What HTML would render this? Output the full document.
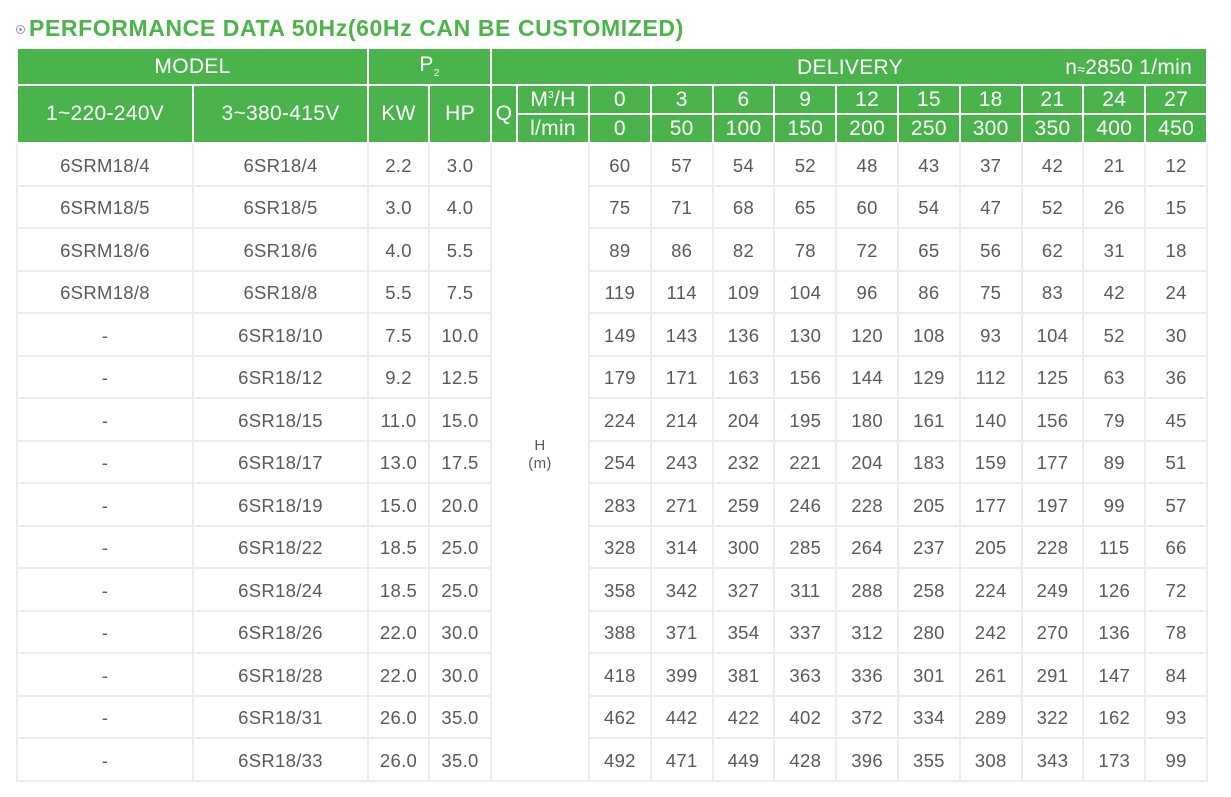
<!DOCTYPE html>
<html><head><meta charset="utf-8"><style>
body{margin:0;width:1231px;height:797px;background:#fff;font-family:"Liberation Sans",sans-serif;overflow:hidden;position:relative}
.title{position:absolute;left:16px;top:15px;color:#4cb54a;font-size:23px;font-weight:bold;white-space:nowrap;letter-spacing:0.6px}
.title .dot{display:inline-block;width:9px;height:9px;border:1px solid #999;border-radius:50%;position:relative;top:-2px;margin-right:4px;box-sizing:border-box}
.title .dot:after{content:"";position:absolute;left:2px;top:2px;width:3px;height:3px;border-radius:50%;background:#999}
table{position:absolute;left:16px;top:47px;border-collapse:collapse;table-layout:fixed;width:1190px}
td{padding:0;text-align:center;overflow:hidden;white-space:nowrap}
.h td{background:#4bb34b;color:#fff;border:2px solid #fff;font-size:21px;letter-spacing:0.3px}
.b td{border:2px solid #ececec;color:#5a5a5a;font-size:18.5px;height:37.5px;line-height:20px;letter-spacing:0.3px;padding-top:3px}
sup,sub{font-size:10px}
</style></head><body>
<div class="title"><span class="dot"></span>PERFORMANCE DATA 50Hz(60Hz CAN BE CUSTOMIZED)</div>
<table>
<colgroup><col style="width:176px"><col style="width:175px"><col style="width:61px"><col style="width:62px"><col style="width:26px"><col style="width:72px"><col span="10" style="width:61.8px"></colgroup>
<tr class="h" style="height:37px"><td colspan="2">MODEL</td><td colspan="2">P<sub>2</sub></td><td colspan="12" style="position:relative"><span style="position:absolute;left:305px;top:7px">DELIVERY</span><span style="position:absolute;right:14px;top:7px">n<span style="font-size:14px">≈</span>2850 1/min</span></td></tr>
<tr class="h" style="height:29px"><td rowspan="2">1~220-240V</td><td rowspan="2">3~380-415V</td><td rowspan="2">KW</td><td rowspan="2">HP</td><td rowspan="2">Q</td><td>M<sup>3</sup>/H</td><td>0</td><td>3</td><td>6</td><td>9</td><td>12</td><td>15</td><td>18</td><td>21</td><td>24</td><td>27</td></tr>
<tr class="h" style="height:29px"><td>l/min</td><td>0</td><td>50</td><td>100</td><td>150</td><td>200</td><td>250</td><td>300</td><td>350</td><td>400</td><td>450</td></tr>
<tr class="b"><td>6SRM18/4</td><td>6SR18/4</td><td>2.2</td><td>3.0</td><td colspan="2" rowspan="15" style="font-size:15px;line-height:18px;padding:0 0 14px 0">H<br>(m)</td><td>60</td><td>57</td><td>54</td><td>52</td><td>48</td><td>43</td><td>37</td><td>42</td><td>21</td><td>12</td></tr>
<tr class="b"><td>6SRM18/5</td><td>6SR18/5</td><td>3.0</td><td>4.0</td><td>75</td><td>71</td><td>68</td><td>65</td><td>60</td><td>54</td><td>47</td><td>52</td><td>26</td><td>15</td></tr>
<tr class="b"><td>6SRM18/6</td><td>6SR18/6</td><td>4.0</td><td>5.5</td><td>89</td><td>86</td><td>82</td><td>78</td><td>72</td><td>65</td><td>56</td><td>62</td><td>31</td><td>18</td></tr>
<tr class="b"><td>6SRM18/8</td><td>6SR18/8</td><td>5.5</td><td>7.5</td><td>119</td><td>114</td><td>109</td><td>104</td><td>96</td><td>86</td><td>75</td><td>83</td><td>42</td><td>24</td></tr>
<tr class="b"><td>-</td><td>6SR18/10</td><td>7.5</td><td>10.0</td><td>149</td><td>143</td><td>136</td><td>130</td><td>120</td><td>108</td><td>93</td><td>104</td><td>52</td><td>30</td></tr>
<tr class="b"><td>-</td><td>6SR18/12</td><td>9.2</td><td>12.5</td><td>179</td><td>171</td><td>163</td><td>156</td><td>144</td><td>129</td><td>112</td><td>125</td><td>63</td><td>36</td></tr>
<tr class="b"><td>-</td><td>6SR18/15</td><td>11.0</td><td>15.0</td><td>224</td><td>214</td><td>204</td><td>195</td><td>180</td><td>161</td><td>140</td><td>156</td><td>79</td><td>45</td></tr>
<tr class="b"><td>-</td><td>6SR18/17</td><td>13.0</td><td>17.5</td><td>254</td><td>243</td><td>232</td><td>221</td><td>204</td><td>183</td><td>159</td><td>177</td><td>89</td><td>51</td></tr>
<tr class="b"><td>-</td><td>6SR18/19</td><td>15.0</td><td>20.0</td><td>283</td><td>271</td><td>259</td><td>246</td><td>228</td><td>205</td><td>177</td><td>197</td><td>99</td><td>57</td></tr>
<tr class="b"><td>-</td><td>6SR18/22</td><td>18.5</td><td>25.0</td><td>328</td><td>314</td><td>300</td><td>285</td><td>264</td><td>237</td><td>205</td><td>228</td><td>115</td><td>66</td></tr>
<tr class="b"><td>-</td><td>6SR18/24</td><td>18.5</td><td>25.0</td><td>358</td><td>342</td><td>327</td><td>311</td><td>288</td><td>258</td><td>224</td><td>249</td><td>126</td><td>72</td></tr>
<tr class="b"><td>-</td><td>6SR18/26</td><td>22.0</td><td>30.0</td><td>388</td><td>371</td><td>354</td><td>337</td><td>312</td><td>280</td><td>242</td><td>270</td><td>136</td><td>78</td></tr>
<tr class="b"><td>-</td><td>6SR18/28</td><td>22.0</td><td>30.0</td><td>418</td><td>399</td><td>381</td><td>363</td><td>336</td><td>301</td><td>261</td><td>291</td><td>147</td><td>84</td></tr>
<tr class="b"><td>-</td><td>6SR18/31</td><td>26.0</td><td>35.0</td><td>462</td><td>442</td><td>422</td><td>402</td><td>372</td><td>334</td><td>289</td><td>322</td><td>162</td><td>93</td></tr>
<tr class="b"><td>-</td><td>6SR18/33</td><td>26.0</td><td>35.0</td><td>492</td><td>471</td><td>449</td><td>428</td><td>396</td><td>355</td><td>308</td><td>343</td><td>173</td><td>99</td></tr>
</table>
</body></html>
